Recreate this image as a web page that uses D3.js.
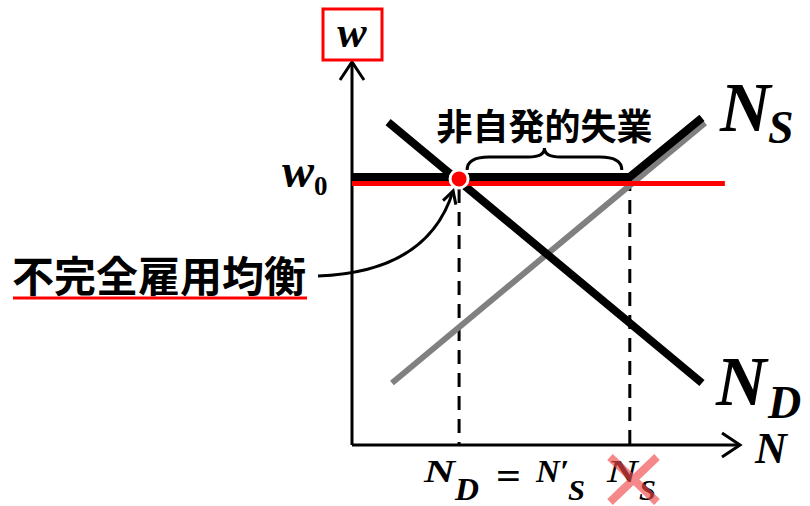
<!DOCTYPE html>
<html>
<head>
<meta charset="utf-8">
<style>
  body { margin: 0; background: white; }
  svg { display: block; }
  .math { font-family: "Liberation Serif", "DejaVu Serif", serif; font-weight: bold; font-style: italic; }
  .jp { font-family: "Noto Sans CJK JP", sans-serif; font-weight: bold; }
</style>
<script src="https://cdn.jsdelivr.net/npm/d3@7"></script>
</head>
<body>
<svg id="chart" width="810" height="506"></svg>
<script>
// values (axis units 0..10)
let w0 = 7
let demandND = [[0.93, 8.43], [9.02, 1.62]]
let supplyNS = [[0, 7], [7.16, 7], [9.02, 8.54]]
let supplyNSprime = [[1.03, 1.62], [9.1, 8.41]]
let wageLine = [[0, 7], [9.61, 7]]
let equilibrium = [2.76, 7]
let fullSupply = [7.16, 7]
let gapLabel = "非自発的失業"
let pointLabel = "不完全雇用均衡"

let svg = d3.select("#chart")

let x = d3.scaleLinear().domain([0, 10]).range([352, 740])
let y = d3.scaleLinear().domain([0, 10]).range([445, 62])
let line = d3.line().x(d => x(d[0])).y(d => y(d[1]))

// axes
svg.append("line").attr("x1", x(0)).attr("y1", y(0)).attr("x2", x(0)).attr("y2", y(10))
  .attr("stroke", "black").attr("stroke-width", 3)
svg.append("line").attr("x1", x(0)).attr("y1", y(0)).attr("x2", x(10)).attr("y2", y(0))
  .attr("stroke", "black").attr("stroke-width", 3)
svg.append("path").attr("d", `M${x(0) - 12},${y(10) + 18}L${x(0)},${y(10)}L${x(0) + 12},${y(10) + 18}`)
  .attr("fill", "none").attr("stroke", "black").attr("stroke-width", 3)
svg.append("path").attr("d", `M${x(10) - 18},${y(0) - 12}L${x(10)},${y(0)}L${x(10) - 18},${y(0) + 12}`)
  .attr("fill", "none").attr("stroke", "black").attr("stroke-width", 3)

// dashed drops
svg.append("line").attr("x1", x(equilibrium[0])).attr("x2", x(equilibrium[0]))
  .attr("y1", y(equilibrium[1]) + 12).attr("y2", y(0))
  .attr("stroke", "black").attr("stroke-width", 3).attr("stroke-dasharray", "14,9")
svg.append("line").attr("x1", x(fullSupply[0])).attr("x2", x(fullSupply[0]))
  .attr("y1", y(fullSupply[1])).attr("y2", y(0))
  .attr("stroke", "black").attr("stroke-width", 3).attr("stroke-dasharray", "14,9")

// curves
svg.append("path").attr("d", line(supplyNSprime)).attr("fill", "none")
  .attr("stroke", "#808080").attr("stroke-width", 6)
svg.append("path").attr("d", line(demandND)).attr("fill", "none")
  .attr("stroke", "black").attr("stroke-width", 8)
svg.append("path").attr("d", line(supplyNS)).attr("fill", "none")
  .attr("stroke", "black").attr("stroke-width", 8)
svg.append("path").attr("d", d3.line().x(d => x(d[0])).y(d => y(d[1]) + 6.5)(wageLine))
  .attr("fill", "none").attr("stroke", "#ff0000").attr("stroke-width", 5)

// equilibrium point
svg.append("circle").attr("cx", x(equilibrium[0])).attr("cy", y(equilibrium[1]) + 2)
  .attr("r", 9).attr("fill", "#ff0000").attr("stroke", "white").attr("stroke-width", 3)

// brace over the gap
let bx1 = x(equilibrium[0]) + 8, bx2 = x(fullSupply[0]) - 8, bm = (bx1 + bx2) / 2
svg.append("path")
  .attr("d", `M${bx1},170 Q${bx1},157 ${bx1 + 22},157 L${bm - 16},157 Q${bm},157 ${bm},148 Q${bm},157 ${bm + 16},157 L${bx2 - 22},157 Q${bx2},157 ${bx2},170`)
  .attr("fill", "none").attr("stroke", "black").attr("stroke-width", 3)
svg.append("text").attr("class", "jp").attr("x", bm).attr("y", 140)
  .attr("text-anchor", "middle").attr("font-size", 36).text(gapLabel)

// w label in red box
svg.append("rect").attr("x", 323).attr("y", 9).attr("width", 59).attr("height", 51)
  .attr("fill", "none").attr("stroke", "#ff0000").attr("stroke-width", 3)
svg.append("text").attr("class", "math").attr("x", 352).attr("y", 47)
  .attr("text-anchor", "middle").attr("font-size", 44).text("w")

// w0
let w0txt = svg.append("text").attr("class", "math").attr("x", 282).attr("y", 187).attr("font-size", 48)
w0txt.append("tspan").text("w")
w0txt.append("tspan").attr("x", 314).attr("y", 195).attr("font-size", 27)
  .style("font-style", "normal").text("0")

// curve names
let ns = svg.append("text").attr("class", "math").attr("x", 720).attr("y", 131).attr("font-size", 70)
ns.append("tspan").text("N")
ns.append("tspan").attr("x", 768).attr("y", 143).attr("font-size", 46).text("S")
let nd = svg.append("text").attr("class", "math").attr("x", 716).attr("y", 405).attr("font-size", 70)
nd.append("tspan").text("N")
nd.append("tspan").attr("x", 768).attr("y", 418).attr("font-size", 46).text("D")
svg.append("text").attr("class", "math").attr("x", 755).attr("y", 463).attr("font-size", 44).text("N")

// bottom labels: N_D = N'_S  and crossed-out N_S
let bottom = [
  {t: "N", x: 424, y: 482, s: 31, w: 31},
  {t: "D", x: 455, y: 500, s: 31, w: 24},
  {t: "=", x: 496, y: 489, s: 38, w: 25, up: true},
  {t: "N′", x: 536, y: 482, s: 31, w: 33},
  {t: "S", x: 568, y: 500, s: 29, w: 17},
  {t: "N", x: 607, y: 482, s: 31, w: 31},
  {t: "S", x: 639, y: 500, s: 29, w: 17}
]
svg.selectAll("text.bot").data(bottom).enter().append("text")
  .attr("class", "math bot")
  .attr("x", d => d.x).attr("y", d => d.y)
  .attr("font-size", d => d.s)
  .attr("textLength", d => d.w).attr("lengthAdjust", "spacingAndGlyphs")
  .style("font-style", d => d.up ? "normal" : "italic")
  .text(d => d.t)

// red cross over N_S
svg.append("path").attr("d", "M610,457L657,502M657,457L610,502")
  .attr("stroke", "#f04848").attr("stroke-opacity", 0.65).attr("stroke-width", 8)

// imperfect employment equilibrium label and arrow
svg.append("text").attr("class", "jp").attr("x", 12).attr("y", 292)
  .attr("font-size", 42).text(pointLabel)
svg.append("line").attr("x1", 13).attr("x2", 307).attr("y1", 298).attr("y2", 298)
  .attr("stroke", "#ff0000").attr("stroke-width", 3)

let tipX = x(equilibrium[0]) - 6, tipY = y(equilibrium[1]) + 14
svg.append("path").attr("d", `M318,276 Q${tipX - 25},272 ${tipX},${tipY}`)
  .attr("fill", "none").attr("stroke", "black").attr("stroke-width", 3)
let ang = Math.atan2(tipY - 272, 25)
let arm = 14
let a1 = ang + Math.PI - 0.5, a2 = ang + Math.PI + 0.5
svg.append("path")
  .attr("d", `M${tipX + arm * Math.cos(a1)},${tipY + arm * Math.sin(a1)}L${tipX},${tipY}L${tipX + arm * Math.cos(a2)},${tipY + arm * Math.sin(a2)}`)
  .attr("fill", "none").attr("stroke", "black").attr("stroke-width", 3)
</script>
</body>
</html>
